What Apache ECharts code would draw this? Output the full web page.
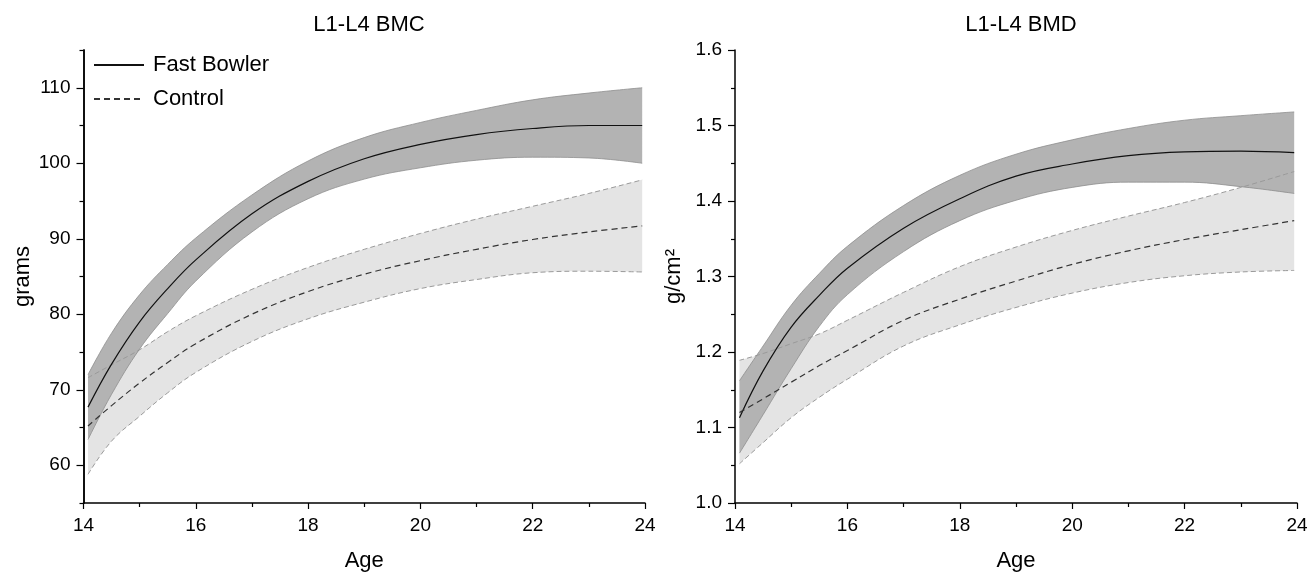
<!DOCTYPE html>
<html>
<head>
<meta charset="utf-8">
<script src="https://cdn.jsdelivr.net/npm/echarts@6/dist/echarts.min.js"></script>
<style>
  html, body { margin: 0; background: #fff; }
  #chart { width: 1309px; height: 574px; }
</style>
</head>
<body>
<div id="chart"></div>
<script>
const ages = [14.08, 14.5, 15, 15.5, 16, 17, 18, 19, 20, 21, 22, 23, 23.95];

// L1-L4 BMC (grams)
const bmcFastMean  = [67.7, 73.4, 79.0, 83.4, 87.2, 93.3, 97.6, 100.6, 102.5, 103.8, 104.6, 105.0, 105.0];
const bmcFastUpper = [72.0, 77.5, 82.6, 86.6, 90.1, 95.8, 100.3, 103.4, 105.4, 107.0, 108.4, 109.3, 110.0];
const bmcFastLower = [63.4, 69.4, 75.4, 80.1, 84.4, 90.9, 95.3, 97.9, 99.4, 100.4, 100.8, 100.7, 100.0];
const bmcCtrlMean  = [65.2, 67.9, 70.9, 73.6, 76.1, 80.0, 83.0, 85.3, 87.1, 88.6, 89.9, 90.9, 91.7];
const bmcCtrlUpper = [71.6, 73.3, 75.3, 77.7, 79.8, 83.3, 86.2, 88.6, 90.7, 92.6, 94.3, 96.0, 97.8];
const bmcCtrlLower = [58.8, 63.2, 66.5, 69.6, 72.3, 76.4, 79.4, 81.6, 83.4, 84.6, 85.5, 85.7, 85.6];

// L1-L4 BMD (g/cm2)
const bmdFastMean  = [1.113, 1.175, 1.233, 1.275, 1.311, 1.364, 1.403, 1.433, 1.449, 1.460, 1.465, 1.466, 1.464];
const bmdFastUpper = [1.162, 1.208, 1.262, 1.304, 1.340, 1.394, 1.434, 1.462, 1.481, 1.496, 1.507, 1.513, 1.518];
const bmdFastLower = [1.066, 1.117, 1.178, 1.234, 1.276, 1.333, 1.374, 1.401, 1.418, 1.425, 1.425, 1.419, 1.410];
const bmdCtrlMean  = [1.120, 1.138, 1.160, 1.182, 1.202, 1.242, 1.270, 1.294, 1.316, 1.334, 1.349, 1.362, 1.374];
const bmdCtrlUpper = [1.189, 1.198, 1.211, 1.224, 1.242, 1.279, 1.313, 1.339, 1.361, 1.380, 1.398, 1.418, 1.439];
const bmdCtrlLower = [1.052, 1.080, 1.113, 1.140, 1.164, 1.208, 1.236, 1.259, 1.278, 1.292, 1.301, 1.306, 1.308];

const bmcMajor = [60, 70, 80, 90, 100, 110];
const bmcMinor = [55, 65, 75, 85, 95, 105, 115];

// rows are [value, age] so the stack is done on the value column, not on age
const rows = arr => ages.map((a, i) => [arr[i], a]);
const diffRows = (up, lo) => ages.map((a, i) => [+(up[i] - lo[i]).toFixed(4), a]);
const enc = { x: 1, y: 0 };

const FONT = '"Liberation Sans", Arial, Helvetica, sans-serif';

function band(id, xi, yi, lower, upper, color, z) {
  return [
    {
      name: id + 'Base', type: 'line', xAxisIndex: xi, yAxisIndex: yi, stack: id,
      data: rows(lower), encode: enc, symbol: 'none', smooth: 0.4, silent: true, z: z,
      lineStyle: { opacity: 0 }
    },
    {
      name: id + 'Band', type: 'line', xAxisIndex: xi, yAxisIndex: yi, stack: id,
      data: diffRows(upper, lower), encode: enc, symbol: 'none', smooth: 0.4, silent: true, z: z,
      lineStyle: { opacity: 0 },
      areaStyle: { color: color, opacity: 1 }
    }
  ];
}

function edge(xi, yi, arr, color, dashed) {
  return {
    type: 'line', xAxisIndex: xi, yAxisIndex: yi, data: rows(arr), encode: enc,
    symbol: 'none', smooth: 0.4, silent: true, z: 5,
    lineStyle: { color: color, width: dashed ? 1 : 0.8, type: dashed ? [5, 3] : 'solid' }
  };
}

function mean(name, xi, yi, arr, dashed) {
  const c = dashed ? '#333' : '#111';
  return {
    name: name, type: 'line', xAxisIndex: xi, yAxisIndex: yi, data: rows(arr), encode: enc,
    symbol: 'none', smooth: 0.4, z: 6,
    itemStyle: { color: c },
    lineStyle: { color: c, width: 1.2, type: dashed ? [6, 4] : 'solid' }
  };
}

const axisLine = { show: true, lineStyle: { color: '#000', width: 1.5 } };

function xAxis(gi) {
  return {
    type: 'value', gridIndex: gi, min: 14, max: 24, interval: 2,
    name: 'Age', nameLocation: 'middle', nameGap: 47,
    nameTextStyle: { fontSize: 22, color: '#000', fontFamily: FONT },
    axisLine: axisLine,
    axisTick: { show: true, length: 6, lineStyle: { color: '#000', width: 1.2 } },
    minorTick: { show: true, splitNumber: 2, length: 4, lineStyle: { color: '#000', width: 1.2 } },
    axisLabel: { fontSize: 19, color: '#000', margin: 13, fontFamily: FONT },
    splitLine: { show: false }
  };
}

const chart = echarts.init(document.getElementById('chart'));
chart.setOption({
  animation: false,
  backgroundColor: '#fff',
  textStyle: { fontFamily: FONT },
  title: [
    { text: 'L1-L4 BMC', left: 364, top: 9, textAlign: 'center',
      textStyle: { fontSize: 22, fontWeight: 'normal', color: '#000', fontFamily: FONT } },
    { text: 'L1-L4 BMD', left: 1016, top: 9, textAlign: 'center',
      textStyle: { fontSize: 22, fontWeight: 'normal', color: '#000', fontFamily: FONT } }
  ],
  legend: {
    data: ['Fast Bowler', 'Control'],
    orient: 'vertical', left: 88, top: 49,
    itemWidth: 50, itemHeight: 14, itemGap: 12,
    itemStyle: { opacity: 0 },
    textStyle: { fontSize: 22, color: '#000', fontFamily: FONT, padding: [0, 0, 0, 4] }
  },
  grid: [
    { left: 83.5, top: 50, width: 561.5, height: 453, outerBoundsMode: 'none' },
    { left: 735, top: 50, width: 562, height: 453, outerBoundsMode: 'none' }
  ],
  xAxis: [xAxis(0), xAxis(1)],
  yAxis: [
    {
      type: 'value', gridIndex: 0, min: 55, max: 115,
      name: 'grams', nameLocation: 'middle', nameGap: 50,
      nameTextStyle: { fontSize: 22, color: '#000', fontFamily: FONT },
      axisLine: axisLine,
      axisTick: { show: true, length: 7, customValues: bmcMajor, lineStyle: { color: '#000', width: 1.2 } },
      axisLabel: { fontSize: 19, color: '#000', margin: 13, customValues: bmcMajor, fontFamily: FONT },
      splitLine: { show: false }
    },
    {
      type: 'value', gridIndex: 0, min: 55, max: 115, position: 'left',
      axisLine: axisLine,
      axisTick: { show: true, length: 4, customValues: bmcMinor, lineStyle: { color: '#000', width: 1.2 } },
      axisLabel: { show: false },
      splitLine: { show: false }
    },
    {
      type: 'value', gridIndex: 1, min: 1.0, max: 1.6, interval: 0.1,
      name: 'g/cm²', nameLocation: 'middle', nameGap: 50,
      nameTextStyle: { fontSize: 22, color: '#000', fontFamily: FONT },
      axisLine: axisLine,
      axisTick: { show: true, length: 7, lineStyle: { color: '#000', width: 1.2 } },
      minorTick: { show: true, splitNumber: 2, length: 4, lineStyle: { color: '#000', width: 1.2 } },
      axisLabel: { fontSize: 19, color: '#000', margin: 13, fontFamily: FONT,
        formatter: v => v.toFixed(1) },
      splitLine: { show: false }
    }
  ],
  series: [
    ...band('bmcCtrl', 0, 0, bmcCtrlLower, bmcCtrlUpper, '#e4e4e4', 1),
    ...band('bmcFast', 0, 0, bmcFastLower, bmcFastUpper, '#b3b3b3', 2),
    edge(0, 0, bmcCtrlUpper, '#9a9a9a', true),
    edge(0, 0, bmcCtrlLower, '#9a9a9a', true),
    edge(0, 0, bmcFastUpper, '#8e8e8e', false),
    edge(0, 0, bmcFastLower, '#8e8e8e', false),
    mean('Fast Bowler', 0, 0, bmcFastMean, false),
    mean('Control', 0, 0, bmcCtrlMean, true),

    ...band('bmdCtrl', 1, 2, bmdCtrlLower, bmdCtrlUpper, '#e4e4e4', 1),
    ...band('bmdFast', 1, 2, bmdFastLower, bmdFastUpper, '#b3b3b3', 2),
    edge(1, 2, bmdCtrlUpper, '#9a9a9a', true),
    edge(1, 2, bmdCtrlLower, '#9a9a9a', true),
    edge(1, 2, bmdFastUpper, '#8e8e8e', false),
    edge(1, 2, bmdFastLower, '#8e8e8e', false),
    mean('Fast Bowler', 1, 2, bmdFastMean, false),
    mean('Control', 1, 2, bmdCtrlMean, true)
  ]
});
</script>
</body>
</html>
